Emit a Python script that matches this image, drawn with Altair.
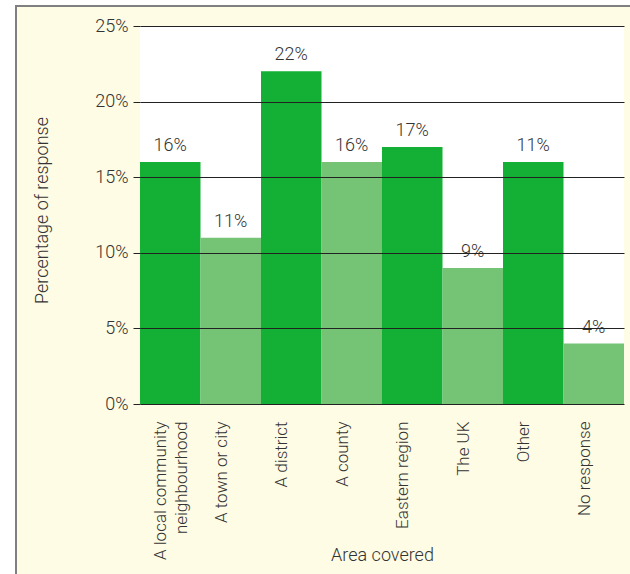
import altair as alt
import pandas as pd

categories = ["A local community\nneighbourhood", "A town or city", "A district", "A county",
              "Eastern region", "The UK", "Other", "No response"]
values = [16, 11, 22, 16, 17, 9, 16, 4]
labels = ["16%", "11%", "22%", "16%", "17%", "9%", "11%", "4%"]
y_ticks = [0, 5, 10, 15, 20, 25]

df = pd.DataFrame({"cat": categories, "val": values, "lab": labels,
                   "shade": [i % 2 for i in range(len(categories))]})

W, H = 484, 378
PL, PT = 140, 26
FONT = "Roboto"
FS = 18
TXT = "#333333"

one = alt.Chart(pd.DataFrame({"a": [0]}))
frame = one.mark_rect(fill="#FEFCE4", stroke="#808080", strokeWidth=2).encode(
    x=alt.value(-PL + 16), x2=alt.value(W + 20), y=alt.value(-PT + 6), y2=alt.value(H + 200))
plotbg = one.mark_rect(fill="white").encode(
    x=alt.value(0), x2=alt.value(W), y=alt.value(0), y2=alt.value(H))

base = alt.Chart(df)
xenc = alt.X("cat:N", sort=categories, title="Area covered",
             scale=alt.Scale(paddingInner=0, paddingOuter=0),
             axis=alt.Axis(labelAngle=-90, labelExpr="split(datum.value, '\\n')",
                           ticks=False, domain=False, labelPadding=17, labelLineHeight=21,
                           labelFontSize=17, labelOffset=-9,
                           titleY=151, titleBaseline="middle", zindex=1))
yenc = alt.Y("val:Q", title="Percentage of response",
             scale=alt.Scale(domain=[0, 25], nice=False),
             axis=alt.Axis(values=y_ticks, labelExpr="datum.value + '%'", grid=True,
                           gridColor="#222222", gridWidth=1, tickColor="#222222", tickSize=7,
                           domain=False, labelPadding=5, zindex=1,
                           titleX=-98, titleY=H / 2 - 5, titleAlign="center", titleBaseline="middle"))
bars = base.mark_bar().encode(
    x=xenc, y=yenc,
    color=alt.Color("shade:N", scale=alt.Scale(domain=[0, 1], range=["#14B035", "#75C476"]), legend=None))
text = base.mark_text(baseline="alphabetic", dy=-11, fontSize=FS, font=FONT, fontWeight=300,
                      color=TXT).encode(
    x=alt.X("cat:N", sort=categories), y="val:Q", text="lab:N")

chart = alt.layer(frame, plotbg, bars, text).properties(
    width=W, height=H, autosize="none",
    padding={"left": PL, "top": PT, "right": 630 - PL - W, "bottom": 574 - PT - H},
    background="white"
).configure_view(stroke=None, fill=None).configure_axis(
    labelFont=FONT, titleFont=FONT, labelFontSize=FS, titleFontSize=FS,
    labelFontWeight=300, titleFontWeight=300,
    labelColor=TXT, titleColor=TXT
)

chart.save("out.html", embed_options={"renderer": "svg", "actions": False})
